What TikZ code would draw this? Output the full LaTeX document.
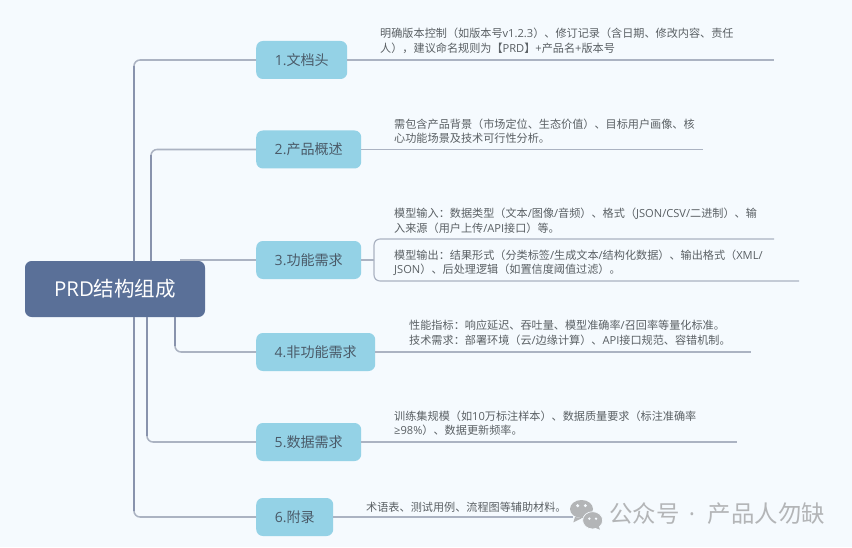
\documentclass[tikz,border=0pt]{standalone}
\usepackage{fontspec}
\setmainfont{Noto Sans CJK SC}
\newfontfamily\enfont{Open Sans}
\usetikzlibrary{calc}
\definecolor{pagebg}{HTML}{F5FAFE}
\definecolor{rootblue}{HTML}{5A7098}
\definecolor{boxblue}{HTML}{94D2E6}
\definecolor{trunkgray}{HTML}{8893AD}
\definecolor{branchgray}{HTML}{ABB3C2}
\definecolor{boxtext}{HTML}{4A5A68}
\definecolor{notetext}{HTML}{5A6064}
\definecolor{markgray}{HTML}{B3B5B7}
\tikzset{
  rootbox/.style={minimum width=5.4cm, minimum height=1.68cm, fill=rootblue, text=white, rounded corners=0.2cm, font=\fontsize{17.5}{20}\selectfont},
  topicbox/.style={minimum height=1.14cm, fill=boxblue, text=boxtext, rounded corners=0.2cm, anchor=west, inner sep=0pt, font=\fontsize{12}{14}\selectfont},
  notetxt/.style={anchor=west, align=left, inner sep=0pt, text=notetext, font=\fontsize{9.5}{12.4}\selectfont},
  trunk/.style={draw=trunkgray, line width=2.3pt},
  branch/.style={draw=branchgray, line width=1.3pt, rounded corners=0.18cm},
  noteline/.style={draw=branchgray, line width=1pt, rounded corners=0.18cm}
}
\begin{document}
\begin{tikzpicture}

\useasboundingbox[fill=pagebg] (0, 0) rectangle (25.56, 16.41);

% free ends of the trunks and lines
\coordinate (trunkA) at (4.02, 8.58);
\coordinate (trunkB) at (4.53, 8.58);
\coordinate (trunkC) at (5.4, 8.61);
\coordinate (trunkD) at (5.25, 6.9);
\coordinate (trunkE) at (4.41, 6.9);
\coordinate (trunkF) at (4.02, 6.9);
\coordinate (fork) at (11.22, 8.61);
\coordinate (endhead) at (23.22, 14.61);
\coordinate (endover) at (21.09, 11.925);
\coordinate (endin) at (23.22, 9.24);
\coordinate (endout) at (23.97, 7.98);
\coordinate (endnonf) at (22.53, 5.85);
\coordinate (enddata) at (22.11, 3.15);
\coordinate (endapp) at (17.19, 0.9);

\node (root) [rootbox] at (3.45, 7.74) {{\enfont PRD}结构组成};
\node (head) [topicbox, minimum width=2.73cm] at (7.68, 14.61) {{\enfont 1.}文档头};
\node (over) [topicbox, minimum width=3.15cm] at (7.68, 11.925) {{\enfont 2.}产品概述};
\node (func) [topicbox, minimum width=3.15cm] at (7.68, 8.61) {{\enfont 3.}功能需求};
\node (nonf) [topicbox, minimum width=3.57cm] at (7.68, 5.85) {{\enfont 4.}非功能需求};
\node (data) [topicbox, minimum width=3.15cm] at (7.68, 3.15) {{\enfont 5.}数据需求};
\node (appx) [topicbox, minimum width=2.31cm] at (7.68, 0.9) {{\enfont 6.}附录};

\node (headtxt) [notetxt] at (11.4, 15.18) {明确版本控制（如版本号{\enfont v1.2.3}）、修订记录（含日期、修改内容、责任\\人），建议命名规则为【{\enfont PRD}】{\enfont +}产品名{\enfont +}版本号};
\node (overtxt) [notetxt] at (11.82, 12.48) {需包含产品背景（市场定位、生态价值）、目标用户画像、核\\心功能场景及技术可行性分析。};
\node (intxt) [notetxt] at (11.82, 9.78) {模型输入：数据类型（文本{\enfont /}图像{\enfont /}音频）、格式（{\enfont JSON/CSV/}二进制）、输\\入来源（用户上传{\enfont /API}接口）等。};
\node (outtxt) [notetxt] at (11.82, 8.52) {模型输出：结果形式（分类标签{\enfont /}生成文本{\enfont /}结构化数据）、输出格式（{\enfont XML/}\\{\enfont JSON}）、后处理逻辑（如置信度阈值过滤）。};
\node (nonftxt) [notetxt] at (12.27, 6.42) {性能指标：响应延迟、吞吐量、模型准确率{\enfont /}召回率等量化标准。\\技术需求：部署环境（云{\enfont /}边缘计算）、{\enfont API}接口规范、容错机制。};
\node (datatxt) [notetxt] at (11.82, 3.705) {训练集规模（如{\enfont 10}万标注样本）、数据质量要求（标注准确率\\{\enfont ≥98\%}）、数据更新频率。};
\node (appxtxt) [notetxt] at (10.98, 1.2) {术语表、测试用例、流程图等辅助材料。};

\draw[branch] (trunkA) |- (head.west);
\draw[branch] (trunkB) |- (over.west);
\draw[branch] (trunkC) -- (func.west);
\draw[branch] (trunkD) |- (nonf.west);
\draw[branch] (trunkE) |- (data.west);
\draw[branch] (trunkF) |- (appx.west);

\draw[trunk, shorten >=0.18cm] (trunkA) -- (trunkA |- head.west);
\draw[trunk, shorten >=0.18cm] (trunkB) -- (trunkB |- over.west);
\draw[trunk, shorten >=0.18cm] (trunkD) -- (trunkD |- nonf.west);
\draw[trunk, shorten >=0.18cm] (trunkE) -- (trunkE |- data.west);
\draw[trunk, shorten >=0.18cm] (trunkF) -- (trunkF |- appx.west);

\draw[noteline] (head.east) -- (endhead);
\draw[noteline] (over.east) -- (endover);
\draw[noteline] (func.east) -- (fork);
\draw[noteline] (fork) |- (endin);
\draw[noteline] (fork) |- (endout);
\draw[noteline] (nonf.east) -- (endnonf);
\draw[noteline] (data.east) -- (enddata);
\draw[noteline] (appx.east) -- (endapp);

% watermark
\fill[markgray] (17.445, 1.14) ellipse (0.345 and 0.27);
\fill[markgray] (17.25, 0.9) -- (17.2, 0.74) -- (17.45, 0.86) -- cycle;
\fill[pagebg] (17.33, 1.24) circle (0.05);
\fill[pagebg] (17.56, 1.24) circle (0.05);
\fill[markgray, draw=pagebg, line width=0.6pt] (17.78, 0.8) ellipse (0.3 and 0.26);
\fill[markgray] (17.95, 0.65) -- (18.0, 0.52) -- (17.8, 0.6) -- cycle;
\fill[pagebg] (17.68, 0.85) circle (0.04);
\fill[pagebg] (17.88, 0.85) circle (0.04);
\node (mark) [anchor=west, inner sep=0pt, text=markgray, font=\fontsize{20}{22}\selectfont] at (18.27, 0.99) {公众号\hspace{0.28cm}{\enfont ·}\hspace{0.38cm}产品人勿缺};

\end{tikzpicture}
\end{document}
